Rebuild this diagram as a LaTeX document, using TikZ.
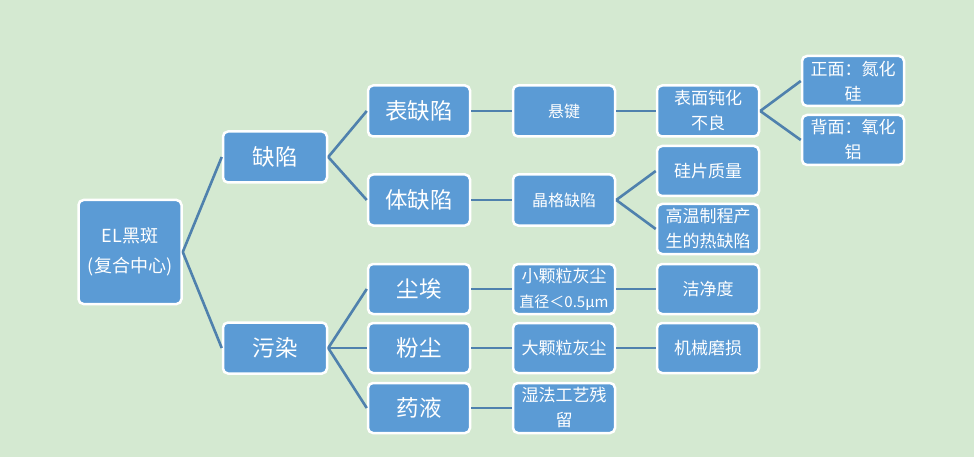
\documentclass[tikz,border=0pt]{standalone}
\usepackage{fontspec}
\setmainfont{Noto Sans CJK SC}
\definecolor{bg}{HTML}{D4E9D1}
\definecolor{boxfill}{HTML}{5B9BD5}
\definecolor{linec}{HTML}{4F81AD}
\begin{document}
\begin{tikzpicture}[x=1pt,y=-1pt,
  nbox/.style={draw=white,line width=2.5pt,fill=boxfill,rounded corners=5pt,
    minimum width=102pt,minimum height=50pt,text=white,align=center,inner sep=1pt,
    font=\fontsize{17}{25}\selectfont},
  bigtxt/.style={font=\fontsize{22.5}{26}\selectfont},
  conn/.style={draw=linec,line width=2.6pt}]
\fill[bg] (0,0) rectangle (974,457);
\useasboundingbox (0,0) rectangle (974,457);
% level 0
\node[nbox,minimum width=103pt,minimum height=104pt,font=\fontsize{18}{30}\selectfont] (root) at (130,252) {EL黑斑\\(复合中心)};
% level 1
\node[nbox,bigtxt,minimum width=104pt,minimum height=51pt] (qx) at (275,157) {缺陷};
\node[nbox,bigtxt,minimum width=104pt,minimum height=51pt] (wr) at (275,348) {污染};
% level 2
\node[nbox,bigtxt,minimum height=51pt] (bqx) at (419,111) {表缺陷};
\node[nbox,bigtxt,minimum height=51pt] (tqx) at (419,200) {体缺陷};
\node[nbox,bigtxt] (ca) at (419,289) {尘埃};
\node[nbox,bigtxt] (fc) at (419,348) {粉尘};
\node[nbox,bigtxt] (yy) at (419,408) {药液};
% level 3
\node[nbox,minimum height=51pt,font=\fontsize{16}{25}\selectfont] (xj) at (564,111) {悬键};
\node[nbox,minimum height=51pt,font=\fontsize{16}{25}\selectfont] (jg) at (564,200) {晶格缺陷};
\node[nbox] (xk) at (564,289) {小颗粒灰尘\\{\fontsize{15}{25}\selectfont 直径＜0.5μm}};
\node[nbox] (dk) at (564,348) {大颗粒灰尘};
\node[nbox] (sf) at (564,408) {湿法工艺残\\留};
% level 4
\node[nbox,minimum height=51pt] (bm) at (708,111) {表面钝化\\不良};
\node[nbox] (gp) at (708,171) {硅片质量};
\node[nbox] (gw) at (708,229) {高温制程产\\生的热缺陷};
\node[nbox] (jj) at (708,289) {洁净度};
\node[nbox] (jx) at (708,348) {机械磨损};
% level 5
\node[nbox] (zm) at (853,81) {正面：氮化\\硅};
\node[nbox] (bmm) at (853,140) {背面：氧化\\铝};
% connectors
\draw[conn] (root.east) -- (qx.west);
\draw[conn] (root.east) -- (wr.west);
\draw[conn] (qx.east) -- (bqx.west);
\draw[conn] (qx.east) -- (tqx.west);
\draw[conn] (wr.east) -- (ca.west);
\draw[conn] (wr.east) -- (fc.west);
\draw[conn] (wr.east) -- (yy.west);
\draw[conn] (bqx.east) -- (xj.west);
\draw[conn] (tqx.east) -- (jg.west);
\draw[conn] (ca.east) -- (xk.west);
\draw[conn] (fc.east) -- (dk.west);
\draw[conn] (yy.east) -- (sf.west);
\draw[conn] (xj.east) -- (bm.west);
\draw[conn] (jg.east) -- (gp.west);
\draw[conn] (jg.east) -- (gw.west);
\draw[conn] (xk.east) -- (jj.west);
\draw[conn] (dk.east) -- (jx.west);
\draw[conn] (bm.east) -- (zm.west);
\draw[conn] (bm.east) -- (bmm.west);
\end{tikzpicture}
\end{document}
